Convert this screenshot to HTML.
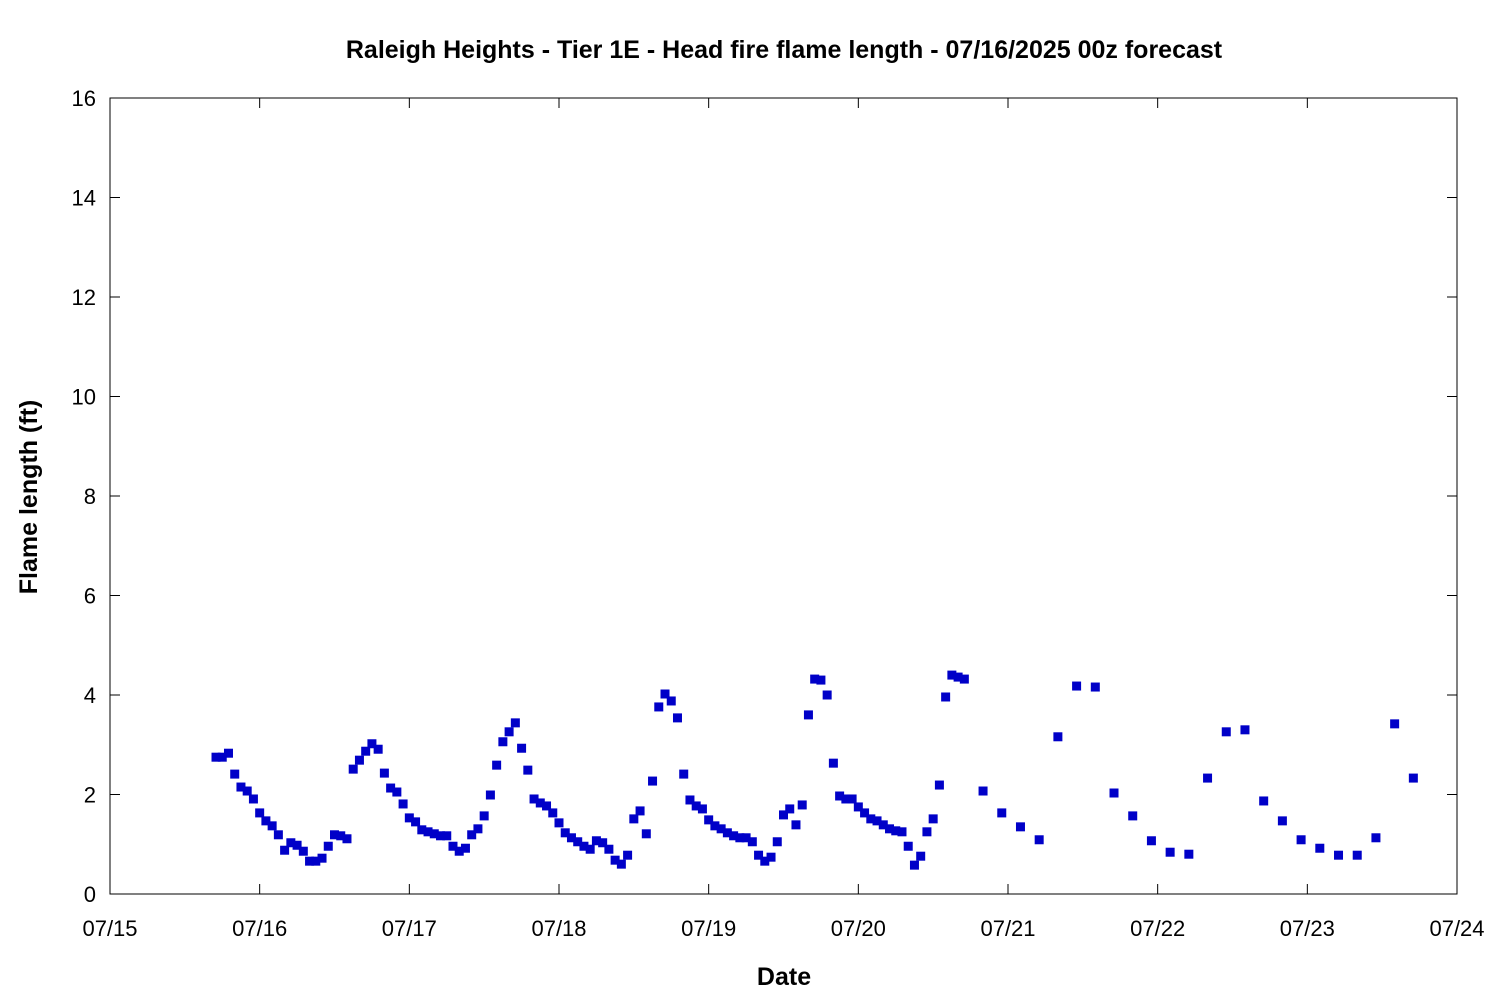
<!DOCTYPE html>
<html><head><meta charset="utf-8"><style>
body{margin:0;background:#fff;}
svg text{font-family:"Liberation Sans","DejaVu Sans",sans-serif;fill:#000;}
</style></head><body>
<svg id="chart" width="1500" height="1000" xmlns="http://www.w3.org/2000/svg">
<rect width="1500" height="1000" fill="#fff"/>
<text x="784" y="58" text-anchor="middle" font-size="25" font-weight="bold">Raleigh Heights - Tier 1E - Head fire flame length - 07/16/2025 00z forecast</text>
<text transform="translate(37,497) rotate(-90)" text-anchor="middle" font-size="25" font-weight="bold">Flame length (ft)</text>
<text x="784" y="985" text-anchor="middle" font-size="25" font-weight="bold">Date</text>
<g id="axes"></g>
<g id="marks"></g>
<rect x="110" y="98" width="1347" height="796" fill="none" stroke="#000" stroke-width="1"/>
</svg>
<script>
const xTickLabels=["07/15","07/16","07/17","07/18","07/19","07/20","07/21","07/22","07/23","07/24"];
const yTicks=[0,2,4,6,8,10,12,14,16];
const hours=[17,18,19,20,21,22,23,24,25,26,27,28,29,30,31,32,33,34,35,36,37,38,
39,40,41,42,43,44,45,46,47,48,49,50,51,52,53,54,55,56,57,58,59,60,61,62,63,64,65,66,67,68,69,70,71,72,73,74,75,76,77,78,79,80,81,82,83,84,85,86,87,88,89,90,91,92,93,94,95,96,97,98,99,100,101,102,103,104,105,106,107,108,109,110,111,112,113,114,115,116,117,118,119,120,121,122,123,124,125,126,127,128,129,130,131,132,133,134,135,136,137,
140,143,146,149,152,155,158,161,164,167,170,173,176,179,182,185,188,191,194,197,200,203,206,209];
const flameLength=[2.75,2.75,2.83,2.41,2.15,2.07,1.91,1.63,1.47,1.37,1.19,0.88,1.03,0.98,0.86,0.66,0.66,0.72,0.96,1.19,1.17,1.11,
2.51,2.69,2.87,3.02,2.91,2.43,2.13,2.05,1.81,1.53,1.45,1.29,1.25,1.21,1.17,1.17,0.96,0.86,0.92,1.19,1.31,1.57,1.99,2.59,3.06,3.26,3.44,2.93,2.49,1.91,1.83,1.77,1.63,1.43,1.23,1.13,1.05,0.96,0.90,1.07,1.03,0.90,0.68,0.60,0.78,1.51,1.67,1.21,2.27,3.76,4.02,3.88,3.54,2.41,1.89,1.77,1.71,1.49,1.37,1.31,1.23,1.17,1.13,1.13,1.05,0.78,0.66,0.74,1.05,1.59,1.71,1.39,1.79,3.60,4.32,4.30,4.00,2.63,1.97,1.91,1.91,1.75,1.63,1.51,1.47,1.39,1.31,1.27,1.25,0.96,0.58,0.76,1.25,1.51,2.19,3.96,4.40,4.36,4.32,
2.07,1.63,1.35,1.09,3.16,4.18,4.16,2.03,1.57,1.07,0.84,0.80,2.33,3.26,3.30,1.87,1.47,1.09,0.92,0.78,0.78,1.13,3.42,2.33];
const X0=110,X1=1457,Y0=894,Y1=98;
function xScale(h){return X0+(h/216)*(X1-X0);}
function yScale(v){return Y0-(v/16)*(Y0-Y1);}
const NS="http://www.w3.org/2000/svg";
const axes=document.getElementById('axes');
const marks=document.getElementById('marks');
function mk(tag,attrs,parent){const e=document.createElementNS(NS,tag);for(const k in attrs)e.setAttribute(k,attrs[k]);parent.appendChild(e);return e;}
xTickLabels.forEach((lab,i)=>{
  const x=xScale(i*24);
  const t1=mk('line',{x1:x,x2:x,y1:Y0,y2:Y0-10,stroke:'#000'},axes);
  
  
  const t2=mk('line',{x1:x,x2:x,y1:Y1,y2:Y1+10,stroke:'#000'},axes);
  
  
  const tx=mk('text',{x:x,y:Y0+42,'text-anchor':'middle','font-size':'22'},axes);
  tx.textContent=lab;
  
  
});
yTicks.forEach(v=>{
  const y=yScale(v);
  const t1=mk('line',{x1:X0,x2:X0+10,y1:y,y2:y,stroke:'#000'},axes);
  
  
  const t2=mk('line',{x1:X1,x2:X1-10,y1:y,y2:y,stroke:'#000'},axes);
  
  
  const tx=mk('text',{x:X0-14,y:y+8,'text-anchor':'end','font-size':'22'},axes);
  tx.textContent=v;
  
  
});
hours.forEach((h,i)=>{
  const s=9;
  const r=mk('rect',{x:xScale(h)-s/2,y:yScale(flameLength[i])-s/2,width:s,height:s,fill:'#0000c8'},marks);
  
  
});
</script>
</body></html>
